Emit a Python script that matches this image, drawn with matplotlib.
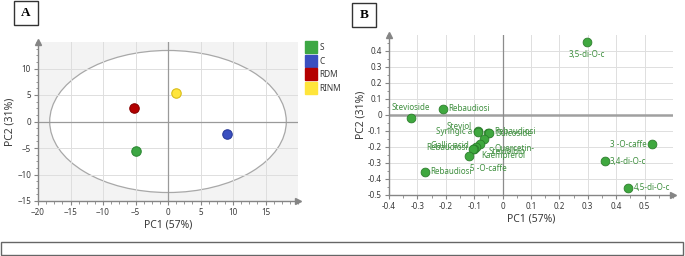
import numpy as np
import matplotlib.pyplot as plt
from matplotlib.patches import Ellipse, Rectangle
from matplotlib.lines import Line2D
from matplotlib.ticker import AutoMinorLocator

plt.rcParams['font.family'] = ['Noto Sans', 'DejaVu Sans']

# score plot (panel A)
groups       = ['S', 'C', 'RDM', 'RINM']
score_pc1    = [-5.0, 9.0, -5.2, 1.2]
score_pc2    = [-5.6, -2.4, 2.6, 5.4]
group_colors = ['#3da744', '#3a4fc0', '#b40000', '#ffe53b']
group_edges  = ['#2e8a35', '#2a3b9a', '#8a0000', '#d9bd1a']

# hotelling ellipse radii
ellipse_r1 = 18.2
ellipse_r2 = 13.4

# loading plot (panel B)
compounds = ['3,5-di-O-c', 'Stevioside', 'Rebaudiosi', 'Rebaudiosi', '3 -O-caffe',
             '3,4-di-O-c', '4,5-di-O-c', 'Steviol', 'Syringic a', 'Rebaudiosi',
             'Dulcoside', 'Quercetin-', 'Steviolbio', 'Kaempferol', 'Gallic acid',
             'Rebaudiosi', '5 -O-caffe']
load_pc1 = [0.297, -0.324, -0.210, -0.275, 0.527, 0.359, 0.443, -0.088, -0.086,
            -0.050, -0.047, -0.067, -0.080, -0.093, -0.101, -0.104, -0.120]
load_pc2 = [0.456, -0.021, 0.038, -0.356, -0.184, -0.288, -0.454, -0.098, -0.104,
            -0.110, -0.114, -0.152, -0.182, -0.200, -0.210, -0.214, -0.255]

# label placement (offset in points, horizontal alignment)
label_pos = [(0, -9, 'center'), (0, 8, 'center'), (4, 0, 'left'), (4, 0, 'left'),
             (-4, 0, 'right'), (4, 0, 'left'), (4, 0, 'left'), (-4, 3, 'right'),
             (-4, 0, 'right'), (4, 1, 'left'), (4, 0, 'left'), (8, -6, 'left'),
             (6, -5, 'left'), (4, -6, 'left'), (-4, 2, 'right'), (-4, 1, 'right'),
             (14, -9, 'center')]

grey = '#858585'
txt = '#3a3a3a'
green_txt = '#3f8f3f'

fig = plt.figure(figsize=(6.85, 2.56), dpi=100)
W, H = 685.0, 256.0


def style_axes(ax):
    for s in ['top', 'right']:
        ax.spines[s].set_visible(False)
    for s in ['left', 'bottom']:
        ax.spines[s].set_color(grey)
        ax.spines[s].set_linewidth(1.0)
    ax.tick_params(which='both', colors=grey, labelcolor=txt, labelsize=5.8,
                   direction='out', pad=2)
    ax.tick_params(which='major', length=3, width=0.8)
    ax.tick_params(which='minor', length=1.8, width=0.6)
    ax.grid(True, which='major', color='#dedede', lw=0.7)
    ax.set_axisbelow(True)
    ax.plot(0, 1, marker='^', ms=5, color=grey, transform=ax.transAxes, clip_on=False)
    ax.plot(1, 0, marker='>', ms=5, color=grey, transform=ax.transAxes, clip_on=False)


############################################################################################
# Panel A - scores
axA = fig.add_axes([38 / W, 1 - 201 / H, 260 / W, 159 / H])
axA.set_facecolor('#f3f3f3')
axA.set_xlim(-20, 20)
axA.set_ylim(-15, 15)
axA.set_xticks(np.arange(-20, 20, 5))
axA.set_yticks(np.arange(-15, 15, 5))
axA.xaxis.set_minor_locator(AutoMinorLocator(4))
axA.yaxis.set_minor_locator(AutoMinorLocator(4))
style_axes(axA)

axA.add_patch(Ellipse((0, 0), 2 * ellipse_r1, 2 * ellipse_r2, facecolor='white',
                      edgecolor='#a8a8a8', lw=0.9, zorder=0.3))
axA.axhline(0, color='#9a9a9a', lw=0.9, zorder=1)
axA.axvline(0, color='#9a9a9a', lw=0.9, zorder=1)
for i in range(len(groups)):
    axA.plot(score_pc1[i], score_pc2[i], 'o', ms=6.8, color=group_colors[i],
             mec=group_edges[i], mew=0.8, zorder=3)

axA.set_xlabel('PC1 (57%)', fontsize=7.5, color=txt, labelpad=2)
axA.set_ylabel('PC2 (31%)', fontsize=7.5, color=txt, labelpad=1)

handles = [Line2D([], [], ls='none', marker='s', ms=8.2, color=c, mec=c) for c in group_colors]
fig.legend(handles, groups, loc='upper left', bbox_to_anchor=(307 / W, 1 - 43 / H),
           frameon=False, fontsize=6, handlelength=1.0, handletextpad=0.45,
           labelspacing=0.55, borderaxespad=0, borderpad=0, labelcolor=txt)

############################################################################################
# Panel B - loadings
axB = fig.add_axes([389 / W, 1 - 195 / H, 284 / W, 160 / H])
axB.set_xlim(-0.4, 0.6)
axB.set_ylim(-0.5, 0.5)
axB.set_xticks(np.round(np.arange(-0.4, 0.55, 0.1), 1))
axB.set_yticks(np.round(np.arange(-0.5, 0.45, 0.1), 1))
axB.set_xticklabels(['-0.4', '-0.3', '-0.2', '-0.1', '0', '0.1', '0.2', '0.3', '0.4', '0.5'])
axB.set_yticklabels(['-0.5', '-0.4', '-0.3', '-0.2', '-0.1', '0', '0.1', '0.2', '0.3', '0.4'])
axB.xaxis.set_minor_locator(AutoMinorLocator(2))
axB.yaxis.set_minor_locator(AutoMinorLocator(2))
style_axes(axB)

axB.axhline(0, color='#a0a0a0', lw=1.8, zorder=1)
axB.axvline(0, color='#8c8c8c', lw=0.9, zorder=1)
axB.plot(load_pc1, load_pc2, 'o', ms=6.3, color='#3fa83f', mec='#2c7d2c', mew=0.6,
         zorder=3, clip_on=False)
for i in range(len(compounds)):
    dx, dy, ha = label_pos[i]
    axB.annotate(compounds[i], (load_pc1[i], load_pc2[i]), xytext=(dx, dy),
                 textcoords='offset points', ha=ha, va='center', fontsize=5.8,
                 color=green_txt, zorder=4)

axB.set_xlabel('PC1 (57%)', fontsize=7.5, color=txt, labelpad=2)
axB.set_ylabel('PC2 (31%)', fontsize=7.5, color=txt, labelpad=1)

############################################################################################
# panel tags and caption box
for x0, y0, tag in [(14, 1, 'A'), (352, 3, 'B')]:
    fig.add_artist(Rectangle((x0 / W, 1 - (y0 + 24) / H), 24 / W, 24 / H,
                             transform=fig.transFigure, fill=False, ec='#333333', lw=1.0))
    fig.text((x0 + 12) / W, 1 - (y0 + 12) / H, tag, ha='center', va='center',
             fontsize=9.5, fontweight='bold', family='Liberation Serif')

fig.add_artist(Rectangle((1 / W, 1 / H), 682 / W, 13 / H, transform=fig.transFigure,
                         fill=False, ec='#666666', lw=1.0))

fig.savefig('out.png', dpi=100)
